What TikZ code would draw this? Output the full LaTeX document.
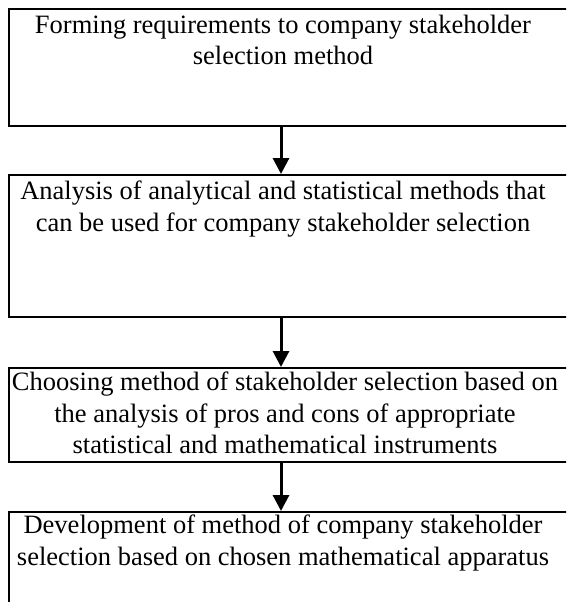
\documentclass[tikz,border=0pt]{standalone}
\usepackage{fontspec}
\setmainfont{Liberation Serif}
\usetikzlibrary{arrows.meta}
\begin{document}
\begin{tikzpicture}[x=1pt,y=-1pt,
  box/.style={draw=black,line width=1.6pt,rectangle,inner sep=0pt,anchor=north west,minimum width=562pt},
  lbl/.style={anchor=north,inner sep=0pt,align=center,font=\fontsize{26.5}{31.5}\selectfont},
  arr/.style={line width=3pt,-{Triangle[width=16pt,length=16pt]}}]
\useasboundingbox (0,0) rectangle (566,602);
\clip (0,0) rectangle (566,602);
\node[box,minimum height=117pt] (b1) at (8,8) {};
\node[box,minimum height=142pt] (b2) at (8,174) {};
\node[box,minimum height=94pt] (b3) at (8,367) {};
\node[box,minimum height=110pt] (b4) at (8,511) {};
\node[lbl] (t1) at (283,14.9) {Forming requirements to company stakeholder\\selection method};
\node[lbl] (t2) at (283,180.9) {Analysis of analytical and statistical methods that\\can be used for company stakeholder selection};
\node[lbl] (t3) at (285,371.9) {Choosing method of stakeholder selection based on\\the analysis of pros and cons of appropriate\\statistical and mathematical instruments};
\node[lbl] (t4) at (283,514.9) {Development of method of company stakeholder\\selection based on chosen mathematical apparatus};
\coordinate (ax) at (281,0);
\draw[arr] (b1.south -| ax) -- (b2.north -| ax);
\draw[arr] (b2.south -| ax) -- (b3.north -| ax);
\draw[arr] (b3.south -| ax) -- (b4.north -| ax);
\end{tikzpicture}
\end{document}
